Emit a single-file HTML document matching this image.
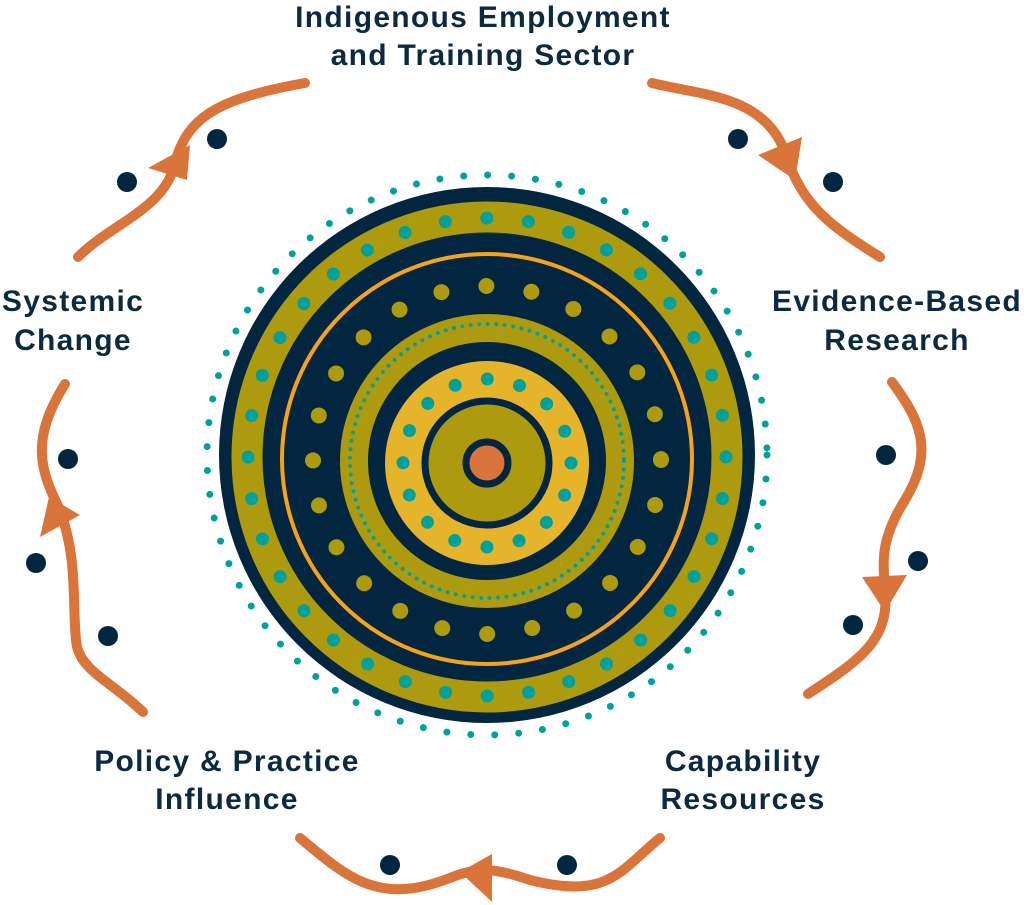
<!DOCTYPE html>
<html><head><meta charset="utf-8"><style>
html,body{margin:0;padding:0;background:#fff;}
svg{display:block}
text{font-family:"Liberation Sans",sans-serif;font-weight:bold;fill:#0b2a40;font-size:30px;letter-spacing:1.3px;text-anchor:middle}
</style></head><body>
<svg width="1024" height="905" viewBox="0 0 1024 905" xmlns="http://www.w3.org/2000/svg">
<g fill="none" stroke-linecap="round">
  <circle cx="487" cy="455" r="280" stroke="#00a19a" stroke-width="7" stroke-dasharray="0 24"/>
  <circle cx="487" cy="455" r="268" fill="#02263f" stroke="none"/>
  <circle cx="487" cy="457" r="240" stroke="#ad9a0e" stroke-width="31"/>
  <circle cx="487" cy="457" r="239" stroke="#00a19a" stroke-width="13" stroke-dasharray="0 41.7"/>
  <circle cx="487" cy="459" r="205" stroke="#f5a31a" stroke-width="4"/>
  <circle cx="487" cy="460" r="174" stroke="#ad9a0e" stroke-width="16" stroke-dasharray="0 45.5"/>
  <circle cx="487" cy="461" r="133" stroke="#ad9a0e" stroke-width="28"/>
  <circle cx="487" cy="461" r="137" stroke="#00a19a" stroke-width="4" stroke-dasharray="0 8.5"/>
  <circle cx="487" cy="463" r="102" fill="#e6b42a" stroke="none"/>
  <circle cx="487" cy="463" r="84" stroke="#00a19a" stroke-width="13" stroke-dasharray="0 33"/>
  <circle cx="487" cy="463" r="62" fill="#ad9a0e" stroke="#02263f" stroke-width="7"/>
  <circle cx="487" cy="463" r="21" fill="#d9743a" stroke="#02263f" stroke-width="7"/>
</g>
<g fill="none" stroke="#d9743a" stroke-width="10" stroke-linecap="round" stroke-linejoin="round">
  <path d="M78 257 C110 225 160 210 173 170 C185 120 210 100 305 83"/>
  <path d="M652 83 C700 95 760 95 783 147 C800 200 820 220 880 257"/>
  <path d="M892 382 C920 420 935 450 905 500 C880 540 883 560 885 590 C890 640 860 660 808 694"/>
  <path d="M660 838 C620 870 610 900 530 880 C500 870 480 865 450 878 C380 905 350 880 300 838"/>
  <path d="M143 712 C110 680 78 670 76 640 C72 600 78 560 60 510 C40 470 30 440 65 384"/>
</g>
<g fill="#d9743a">
  <polygon points="148,168 190,145 187,180"/>
  <polygon points="758,155 802,137 795,180"/>
  <polygon points="862,577 907,575 885,612"/>
  <polygon points="460,872 492,854 492,902"/>
  <polygon points="49,497 80,515 40,537"/>
</g>
<g fill="#02263f">
  <circle cx="127" cy="182" r="10"/><circle cx="217" cy="139" r="10"/>
  <circle cx="738" cy="139" r="10"/><circle cx="833" cy="182" r="10"/>
  <circle cx="886" cy="455" r="10"/><circle cx="918" cy="561" r="10"/><circle cx="853" cy="625" r="10"/>
  <circle cx="390" cy="865" r="10"/><circle cx="567" cy="865" r="10"/>
  <circle cx="68" cy="459" r="10"/><circle cx="36" cy="563" r="10"/><circle cx="108" cy="636" r="10"/>
</g>
<text x="483" y="27">Indigenous Employment</text>
<text x="483" y="65">and Training Sector</text>
<text x="73" y="311">Systemic</text>
<text x="73" y="350">Change</text>
<text x="897" y="311">Evidence-Based</text>
<text x="897" y="350">Research</text>
<text x="227" y="771">Policy &amp; Practice</text>
<text x="227" y="809">Influence</text>
<text x="743" y="771">Capability</text>
<text x="743" y="809">Resources</text>
</svg>
</body></html>
